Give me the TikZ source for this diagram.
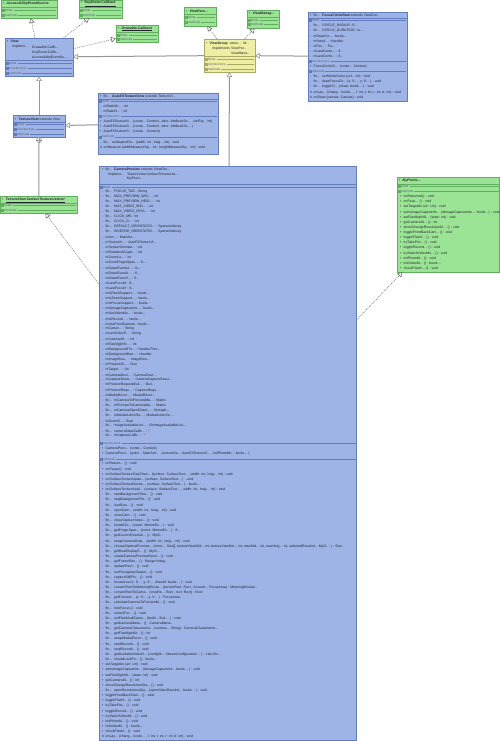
\documentclass[tikz,border=0pt]{standalone}
\usepackage{fontspec}
\setmainfont{Liberation Sans}
\usetikzlibrary{arrows.meta}
\definecolor{bfill}{RGB}{158,180,230}
\definecolor{bdraw}{RGB}{98,125,190}
\definecolor{gfill}{RGB}{155,228,150}
\definecolor{gdraw}{RGB}{95,175,95}
\definecolor{yfill}{RGB}{238,238,165}
\definecolor{ydraw}{RGB}{170,170,100}
\definecolor{txtc}{RGB}{35,35,45}
\definecolor{lblc}{RGB}{95,95,115}
\definecolor{genc}{RGB}{150,150,150}
\definecolor{relc}{RGB}{110,110,110}
\definecolor{qc}{RGB}{215,80,40}
\newcommand\D{.\kern0pt.\kern0pt.}
\newcommand\F{\makebox[8.5pt][l]{fin\D}}
\newcommand\PU{\makebox[3.5pt][l]{•}}
\newcommand\PR{\makebox[3.5pt][l]{-}}
\newcommand\PT{\makebox[3.5pt][l]{\#}}
\tikzset{
 txt/.style={font=\fontsize{3.45}{4}\selectfont, text=txtc, inner sep=0, anchor=west},
 lbl/.style={font=\fontsize{3.2}{4}\selectfont, text=lblc, inner sep=0, anchor=west},
 cls/.style={rectangle, inner sep=0, outer sep=0, line width=0.6pt},
 gbox/.style={fill=gfill, draw=gdraw},
 bbox/.style={fill=bfill, draw=bdraw},
 ybox/.style={fill=yfill, draw=ydraw},
 gen/.style={draw=genc, line width=1pt, -{Triangle[length=5pt,width=5.5pt,fill=white,line width=0.6pt]}},
 real/.style={draw=relc, line width=0.5pt, dash pattern=on 1pt off 1pt, -{Triangle[length=5pt,width=5.5pt,fill=white,line width=0.6pt]}},
}
\newcommand\classbox[6]{\node[cls,#6,minimum width={(#4-#2)*1pt},minimum height={(#5-#3)*1pt}] (#1) at ({(#2+#4)/2},{(#3+#5)/2}) {};}
\newcommand\sepl[4]{\draw[#4, line width=0.4pt] (#1,#3) -- (#2,#3);}
\newcommand\comp[6]{%
 \draw[#6, line width=0.3pt, fill=white] (#2,#3-1) rectangle ++(2,2);
 \draw[#6, line width=0.25pt] (#2+0.5,#3) -- ++(1,0);
 \node[lbl] (#1) at (#2+2.8,#3) {#4};
 \draw[#6, line width=0.3pt] ([xshift=1pt]#1.east) -- (#5,#3);}
\newcommand\rows[5]{\foreach \t [count=\i from 0] in {#5}{\node[txt] (#1\i) at (#2,{#3+\i*#4}) {\t};}}
\begin{document}
\begin{tikzpicture}[x=1pt,y=-1pt]
\fill[white] (0,0) rectangle (500,741);
\useasboundingbox (0,0) rectangle (500,741);
% ---------- boxes
\classbox{aes}{1}{0.5}{57}{18}{gbox}
\classbox{kec}{79}{0.5}{122}{18}{gbox}
\classbox{dc}{116}{25}{158}{42}{gbox}
\classbox{view}{5}{38}{73}{76}{bbox}
\classbox{vp}{184}{7}{216}{26}{gbox}
\classbox{vm}{247}{10}{279}{28}{gbox}
\classbox{vg}{204}{39}{255}{72}{ybox}
\classbox{fcv}{308}{12}{407}{101}{bbox}
\classbox{aftv}{98}{93}{218}{154}{bbox}
\classbox{tv}{13}{115}{65}{137}{bbox}
\classbox{stl}{0.5}{196}{77}{213}{gbox}
\classbox{cp}{99}{166}{356.5}{740}{bbox}
\classbox{mpc}{397}{177}{499.5}{272}{gbox}
% ---------- connectors
\draw[gen] (vg) -- (view);
\draw[gen] (fcv) -- (vg);
\draw[gen] (cp) -- (vg);
\draw[gen] (tv) -- (view);
\draw[gen] (aftv) -- (tv);
\draw[real] (view) -- (aes);
\draw[real] (view) -- (kec);
\draw[real] (view) -- (dc);
\draw[real] (vg) -- (vp);
\draw[real] (vg) -- (vm);
\draw[real] (cp) -- (stl);
\draw[real] (cp) -- (mpc);
\node[circle, draw=genc, fill=white, line width=0.6pt, minimum size=5pt, inner sep=0] (nest) at (39,140) {};
\draw[genc, line width=0.5pt] (nest.north) -- (nest.south) (nest.west) -- (nest.east);
\draw[genc, line width=1pt] (stl) -- (nest);
% ---------- AccessibilityEventSource
\node[txt] (aesh) at (3,4) {\PU\textbf{\textit{AccessibilityEventSource}}};
\sepl{1}{57}{7}{gdraw}
\comp{aesf}{2}{10}{fields}{56}{gdraw}
\comp{aesm}{2}{15}{methods}{56}{gdraw}
% ---------- KeyEvent.Callback
\node[txt] (kech) at (81,4) {\PU\underline{\textbf{\textit{KeyEvent.Callback}}}};
\sepl{79}{122}{7}{gdraw}
\comp{kecf}{80}{10}{fields}{121}{gdraw}
\comp{kecm}{80}{15}{methods}{121}{gdraw}
% ---------- Drawable.Callback
\node[txt] (dch) at (118,29) {\PU\underline{\textbf{\textit{Drawable.Callback}}}};
\sepl{116}{158}{32}{gdraw}
\comp{dcf}{117}{35}{fields}{157}{gdraw}
\comp{dcm}{117}{39.5}{methods}{157}{gdraw}
% ---------- ViewPare
\node[txt] (vph) at (186,11) {\PU\textbf{\textit{ViewPare\D}}};
\sepl{184}{216}{14}{gdraw}
\comp{vpf}{185}{17.5}{fields}{215}{gdraw}
\comp{vpm}{185}{22.5}{methods}{215}{gdraw}
% ---------- ViewManag
\node[txt] (vmh) at (249,14) {\PU\textbf{\textit{ViewManag\D}}};
\sepl{247}{279}{17}{gdraw}
\comp{vmf}{248}{20}{fields}{278}{gdraw}
\comp{vmm}{248}{24.5}{methods}{278}{gdraw}
% ---------- View
\node[txt] (viewh) at (7,41.5) {\PU\textbf{View}};
\node[txt] (viewi) at (12,47) {impleme\D};
\node[txt] (viewi1) at (32,47) {Drawable.Callb\D};
\node[txt] (viewi2) at (32,52.5) {KeyEvent.Callb\D};
\node[txt] (viewi3) at (32,58) {AccessibilityEventSo\D};
\sepl{5}{73}{60.5}{bdraw}
\comp{viewf}{6}{63}{fields}{72}{bdraw}
\comp{viewc}{6}{68}{constructors}{72}{bdraw}
\comp{viewm}{6}{73}{methods}{72}{bdraw}
% ---------- ViewGroup
\node[txt] (vgh) at (206,43.3) {\PU\textbf{ViewGroup} \ exten\D{} \ M\D};
\node[txt] (vgi) at (212,48.3) {implements};
\node[txt] (vgi1) at (231,48.3) {ViewPar\D};
\node[txt] (vgi2) at (231,53.3) {ViewMana\D};
\sepl{204}{255}{56.5}{ydraw}
\comp{vgf}{205}{59.3}{fields}{254}{ydraw}
\comp{vgc}{205}{64.3}{constructors}{254}{ydraw}
\comp{vgm}{205}{69.3}{methods}{254}{ydraw}
% ---------- FocusCircleView
\node[txt] (fcvh) at (310,15.5) {\PU\F\textbf{FocusCircleView} extends ViewGro\D};
\sepl{308}{407}{18.3}{bdraw}
\comp{fcvf}{309}{20.6}{fields}{406}{bdraw}
\rows{fcvr}{310}{25.6}{5.1}{{\PR\F CIRCLE\_RADIUS : fl\D},{\PR\F CIRCLE\_DURATION : lo\D},{\PR mDrawCir\D{} : boole\D},{\PR mHand\D{} : Handler},{\PR mPai\D{} : Pa\D},{\PR mLastCente\D{} : fl\D},{\PR mLastCente\D{} : fl\D}}
\comp{fcvc}{309}{61.4}{constructors}{406}{bdraw}
\node[txt] (fcvk) at (310,66.5) {\PU FocusCircleVi\D{} \ (conte\D{} Context)};
\comp{fcvm}{309}{71.5}{methods}{406}{bdraw}
\rows{fcvn}{310}{76.7}{5.15}{{\PR\F setStrokeColor (col\D{} int) : void},{\PR\F drawFocusCir\D{} (x: fl\D{} , y: fl\D{} ) : void},{\PR\F toggleCi\D{} (show: boole\D{} ) : void},{\PT onLay\D{} (chang\D{} boole\D{} , l: int, t: int, r: int, b: int) : void},{\PT onDraw (canvas: Canvas) : void}}
% ---------- AutoFitTextureView
\node[txt] (afh) at (100,96.5) {\PU\F\textbf{AutoFitTextureView} extends TextureVi\D};
\sepl{98}{218}{99}{bdraw}
\comp{aff}{99}{101.2}{fields}{217}{bdraw}
\rows{afr}{100}{106.2}{5.1}{{\PR mRatioW\D{} : int},{\PR mRatioH\D{} : int}}
\comp{afc}{99}{116.2}{constructors}{217}{bdraw}
\rows{afk}{100}{121.3}{5.1}{{\PU AutoFitTextureVi\D{} (conte\D{} Context , attrs: AttributeSe\D{} , defSty\D{} int)},{\PU AutoFitTextureVi\D{} (conte\D{} Context , attrs: AttributeSe\D{} )},{\PU AutoFitTextureVi\D{} (conte\D{} Context)}}
\comp{afm}{99}{136.8}{methods}{217}{bdraw}
\rows{afn}{100}{142.2}{5.15}{{\PR\F setAspectRa\D{} (width: int , heig\D{} int) : void},{\PT onMeasure (widthMeasureSp\D{} int , heightMeasureSp\D{} int) : void}}
% ---------- TextureView
\node[txt] (tvh) at (15,119.3) {\PU\textbf{TextureView} extends View};
\sepl{13}{65}{122}{bdraw}
\comp{tvf}{14}{124.5}{fields}{64}{bdraw}
\comp{tvc}{14}{129.5}{constructors}{64}{bdraw}
\comp{tvm}{14}{134.3}{methods}{64}{bdraw}
% ---------- SurfaceTextureListener
\node[txt] (stlh) at (2,200.5) {\PU\underline{\textbf{\textit{TextureView.SurfaceTextureListener}}}};
\sepl{0.5}{77}{203}{gdraw}
\comp{stlf}{1.5}{205.5}{fields}{76}{gdraw}
\comp{stlm}{1.5}{210.3}{methods}{76}{gdraw}
% ---------- MyPreviewCallback
\node[txt] (mpch) at (399,181) {\PU\textbf{\textit{MyPrevic\D}}};
\sepl{397}{499.5}{184}{gdraw}
\comp{mpcf}{398}{186.5}{fields}{498.5}{gdraw}
\comp{mpcm}{398}{191.3}{methods}{498.5}{gdraw}
\rows{mpcr}{400}{196.7}{5.14}{{\PU onResumed() : void},{\PU onPaus\D{} () : void},{\PU setTargetUri (uri: Uri) : void},{\PU setIsImageCaptureInt\D{} (isImageCaptureInte\D: boole\D) : void},{\PU setFlashlightSt\D{} (state: int) : void},{\PU getCameraSt\D{} () : int},{\PU showChangeResolutionDi\D{} () : void},{\PU toggleFrontBackCam\D{} () : void},{\PU toggleFlashl\D{} () : void},{\PU tryTakePict\D{} () : void},{\PU toggleRecord\D{} () : void},{\PU trySwitchVideoMo\D{} () : void},{\PU initPhotoM\D{} () : void},{\PU initVideoM\D{} () : boole\D},{\PU checkFlashl\D{} () : void}}
% ---------- CameraPreview
\node[txt] (cph1) at (102,169.5) {\PU\F\textbf{CameraPreview} extends ViewGro\D};
\node[txt] (cph2) at (108,174.5) {impleme\D};
\node[txt] (cph3) at (127,174.5) {TextureView.SurfaceTextureList\D};
\node[txt] (cph4) at (127,179) {MyPrevi\D};
\sepl{99}{356.5}{184.5}{bdraw}
\comp{cpf}{100}{187}{fields}{355.5}{bdraw}
\rows{cpr}{102}{191.3}{5.1}{{\PR\F FOCUS\_TAG : String},{\PR\F MAX\_PREVIEW\_WID\D{} : int},{\PR\F MAX\_PREVIEW\_HEIG\D{} : int},{\PR\F MAX\_VIDEO\_WID\D{} : int},{\PR\F MAX\_VIDEO\_HEIG\D{} : int},{\PR\F CLICK\_MS : int},{\PR\F CLICK\_D\D{} : int},{\PR\F DEFAULT\_ORIENTATIO\D{} : SparseIntArray},{\PR\F INVERSE\_ORIENTATIO\D{} : SparseIntArray},{\PR mAct\D{} : MainAct\D},{\PR mTextureV\D{} : AutoFitTextureVi\D},{\PR mSensorOrientat\D{} : int},{\PR mRotationAtCapt\D{} : int},{\PR mZoomLe\D{} : int},{\PR mZoomFingerSpac\D{} : fl\D},{\PR mDownEventst\D{} : lo\D},{\PR mDownEventX\D{} : fl\D},{\PR mDownEventY\D{} : fl\D},{\PR mLastFocusX : fl\D},{\PR mLastFocusY : fl\D},{\PR mIsFlashSupport\D{} : boole\D},{\PR mIsZoomSupport\D{} : boole\D},{\PR mIsFocusSupport\D{} : boole\D},{\PR mIsImageCaptureInt\D{} : boole\D},{\PR mIsInVideoMo\D{} : boole\D},{\PR mIsRecordi\D{} : boole\D},{\PR mUseFrontCamera : boole\D},{\PR mCamer\D{} : String},{\PR mLastVideoP\D{} : String},{\PR mCameraSt\D{} : int},{\PR mFlashlightSt\D{} : int},{\PR mBackgroundThr\D{} : HandlerThre\D},{\PR mBackgroundHan\D{} : Handler},{\PR mImageRea\D{} : ImageRea\D},{\PR mPreviewSi\D{} : Size},{\PR mTarget\D{} : Uri},{\PR mCameraDevi\D{} : CameraDevi\D},{\PR mCaptureSessi\D{} : CameraCaptureSessi\D},{\PR mPreviewRequestBuil\D{} : Buil\D},{\PR mPreviewRequ\D{} : CaptureRequ\D},{\PR mMediaRecor\D{} : MediaRecor\D},{\PR\F mCameraToPreviewMa\D{} : Matrix},{\PR\F mPreviewToCameraMa\D{} : Matrix},{\PR\F mCameraOpenClosel\D{} : Semaph\D},{\PR\F mMediaActionSo\D{} : MediaActionSo\D},{\PR mZoomO\D{} : float},{\PR\F imageAvailableList\D{} : OnImageAvailableList\D},{\PR\F cameraStateCallb\D{} : \textcolor{qc}{?}},{\PR\F mCaptureCallb\D{} : \textcolor{qc}{?}}}
\comp{cpc}{100}{443.5}{constructors}{355.5}{bdraw}
\rows{cpk}{102}{448.7}{5.1}{{\PU CameraPrevi\D{} (conte\D{} Context)},{\PU CameraPrevi\D{} (activi\D{} MainActi\D{} , textureVie\D{} AutoFitTextureVi\D{} , initPhotoMo\D{} boole\D{} )}}
\comp{cpm}{100}{459}{methods}{355.5}{bdraw}
\rows{cpn}{102}{464}{5.15}{{\PU onResum\D{} () : void},{\PU onPause() : void},{\PU onSurfaceTextureSizeChan\D{} (surface: SurfaceText\D{} , width: int , heig\D{} int) : void},{\PU onSurfaceTextureUpda\D{} (surface: SurfaceText\D{} ) : void},{\PU onSurfaceTextureDestro\D{} (surface: SurfaceText\D{} ) : boole\D},{\PU onSurfaceTextureAvail\D{} (surface: SurfaceText\D{} , width: int , heig\D{} int) : void},{\PR\F startBackgroundThre\D{} () : void},{\PR\F stopBackgroundThr\D{} () : void},{\PR\F loadSou\D{} () : void},{\PR\F openCam\D{} (width: int , heig\D{} int) : void},{\PR\F closeCam\D{} () : void},{\PR\F closeCaptureSessi\D{} () : void},{\PR\F handleZo\D{} (event: MotionEv\D{} ) : void},{\PR\F getFingerSpac\D{} (event: MotionEv\D{} ) : fl\D},{\PR\F getCurrentResoluti\D{} () : MySi\D},{\PR\F setupCameraOutp\D{} (width: int , heig\D{} int) : void},{\PR\F chooseOptimalPreview\D{} (choic\D{} Size[], textureViewWid\D{} int, textureViewHei\D{} int, maxWid\D{} int, maxHeig\D{} int, selectedResoluti\D{} MySi\D{} ) : Size},{\PR\F getRealDisplayS\D{} () : MySi\D},{\PR\F createCameraPreviewSessi\D{} () : void},{\PR\F getFrameRan\D{} () : Range<Integ\D},{\PR\F updatePrevi\D{} () : void},{\PR\F runPrecaptureSeque\D{} () : void},{\PR\F captureStillPic\D{} () : void},{\PR\F focusArea (x: fl\D{} , y: fl\D{} , drawUI: boole\D{} ) : void},{\PR\F convertRectToMeteringRecta\D{} (sensorRect: Rect , focusAr\D{} FocusArea) : MeteringRectan\D},{\PR\F convertRectToCame\D{} (cropRe\D{} Rect , rect: Rect) : Rect},{\PR\F getFocusAr\D{} (x: fl\D{} , y: fl\D{} ) : FocusArea},{\PR\F calculateCameraToPreviewM\D{} () : void},{\PR\F lockFocus () : void},{\PR\F unlockFoc\D{} () : void},{\PR\F setFlashAndExpos\D{} (build\D{} Buil\D{} ) : void},{\PR\F getCameraMana\D{} () : CameraMana\D},{\PR\F getCameraCharacterist\D{} (camera\D{} String) : CameraCharacterist\D},{\PR\F getFlashlightSt\D{} () : int},{\PR\F setupMediaRecor\D{} () : void},{\PR\F startRecordi\D{} () : void},{\PR\F stopRecordi\D{} () : void},{\PR\F getAvailableVideoS\D{} (configM\D{} StreamConfiguration\D{} ) : List<Siz\D},{\PR\F shouldLockPo\D{} () : boole\D},{\PU setTargetUri (uri: Uri) : void},{\PU setIsImageCaptureInt\D{} (isImageCaptureInt\D{} boole\D{} ) : void},{\PU setFlashlightSt\D{} (state: int) : void},{\PU getCameraSt\D{} () : int},{\PU showChangeResolutionDia\D{} () : void},{\PR\F openResolutionsDia\D{} (openVideoResoluti\D{} boole\D{} ) : void},{\PU toggleFrontBackCam\D{} () : void},{\PU toggleFlashl\D{} () : void},{\PU tryTakePict\D{} () : void},{\PU toggleRecord\D{} () : void},{\PU trySwitchVideoM\D{} () : void},{\PU initPhotoM\D{} () : void},{\PU initVideoM\D{} () : boole\D},{\PU checkFlashl\D{} () : void},{\PT onLay\D{} (chang\D{} boole\D{} , l: int, t: int, r: int, b: int) : void}}
\end{tikzpicture}
\end{document}
